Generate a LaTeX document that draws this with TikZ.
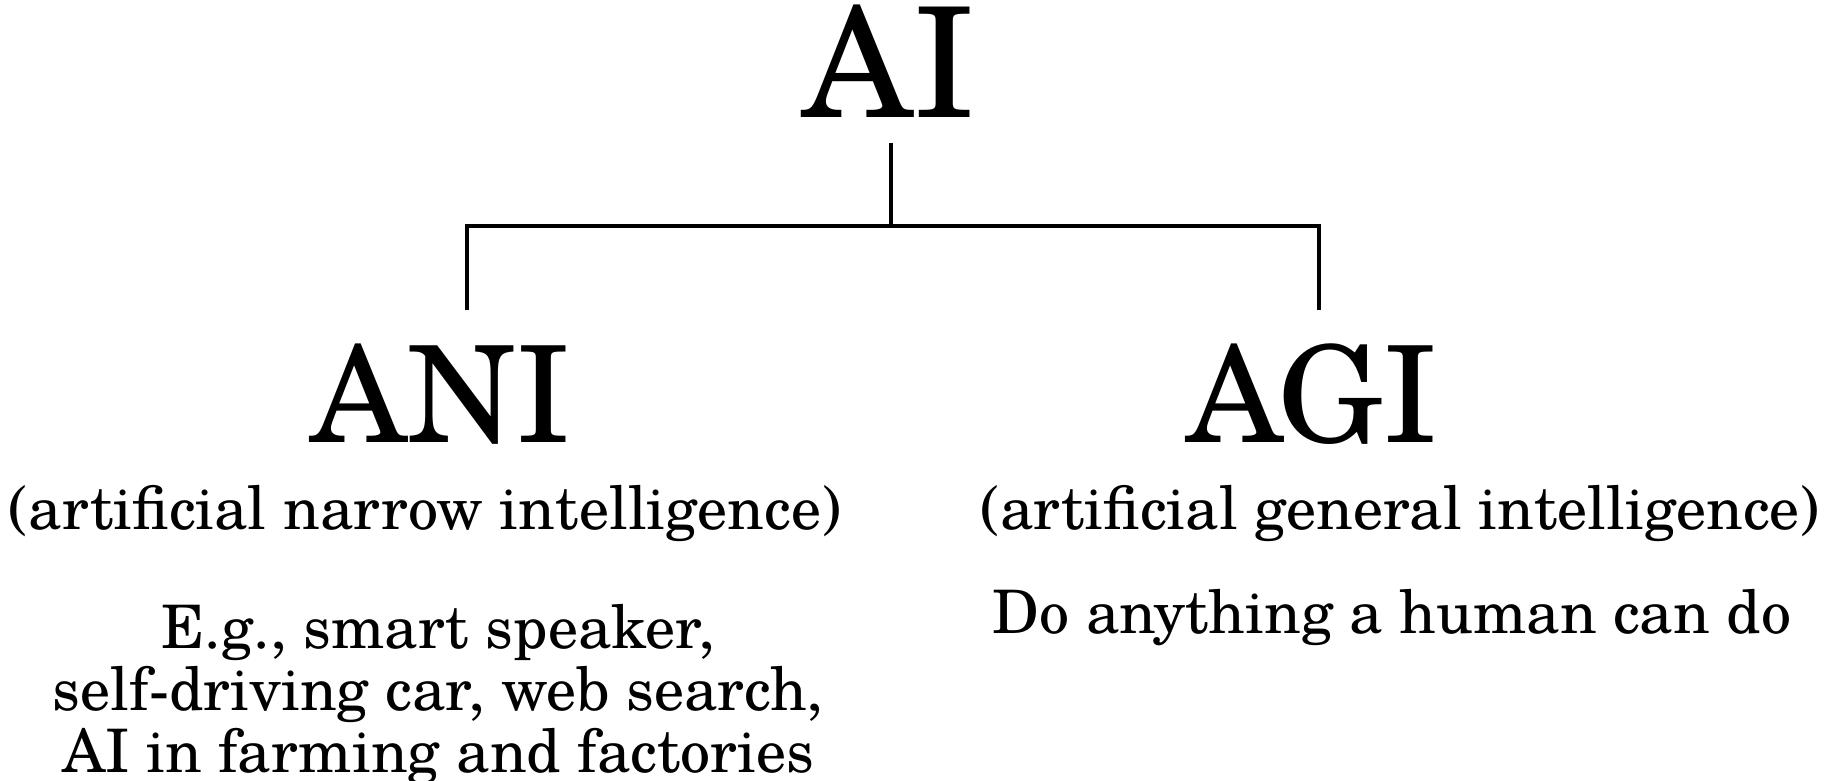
\documentclass[tikz,border=0pt]{standalone}
\usepackage{fontspec}
\setmainfont{TeX Gyre Schola}
\begin{document}
\begin{tikzpicture}[x=1pt,y=-1pt,
  lbl/.style={inner sep=0pt,outer sep=0pt,anchor=base},
  huge/.style={lbl,font=\fontsize{153}{160}\selectfont},
  big/.style={lbl,font=\fontsize{134}{140}\selectfont},
  txt/.style={lbl,font=\fontsize{60}{60}\selectfont},
  conn/.style={line width=3.2pt,line cap=butt,line join=miter}]
\useasboundingbox[fill=white] (0,0) rectangle (1834,780);
\node[huge] (ai) at (889,117) {AI};
\node[big] (ani) at (441,442) {ANI};
\node[big] (agi) at (1312,442) {AGI};
\node[txt] (anisub) at (425,529) {(artificial narrow intelligence)};
\node[txt] (agisub) at (1400,529) {(artificial general intelligence)};
\node[txt] (ex1) at (438,648) {E.g., smart speaker,};
\node[txt] (ex2) at (438,710) {self-driving car, web search,};
\node[txt] (ex3) at (438,772) {AI in farming and factories};
\node[txt] (agiex) at (1392,633) {Do anything a human can do};
\coordinate (aitop) at (891,143);
\coordinate (junc) at (891,226);
\coordinate (lend) at (467,310);
\coordinate (rend) at (1319,310);
\draw[conn] (aitop) -- (junc);
\draw[conn] (lend) |- (junc) -| (rend);
\end{tikzpicture}
\end{document}
